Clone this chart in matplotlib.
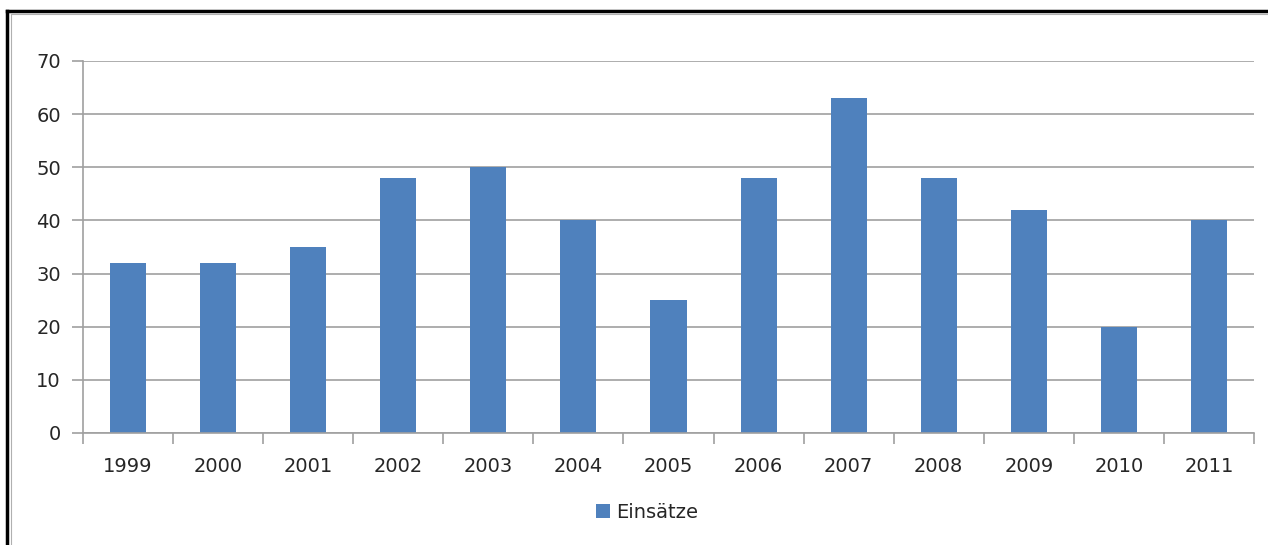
#!/usr/bin/env python3
"""Einsätze per year, Excel-style column chart."""

import matplotlib

matplotlib.use("Agg")
import matplotlib.pyplot as plt
import numpy as np
from matplotlib.lines import Line2D
from matplotlib.patches import Patch

years = ["1999", "2000", "2001", "2002", "2003", "2004", "2005",
         "2006", "2007", "2008", "2009", "2010", "2011"]
einsaetze = [32, 32, 35, 48, 50, 40, 25, 48, 63, 48, 42, 20, 40]
y_ticks = [0, 10, 20, 30, 40, 50, 60, 70]

W, H = 1268, 545
BAR = "#4F81BD"
GRID = "#a0a0a0"
TEXT = "#262626"

plt.rcParams["font.family"] = ["DejaVu Sans"]

fig = plt.figure(figsize=(W / 100, H / 100), dpi=100)
ax = fig.add_axes([83 / W, 1 - 433 / H, (1254 - 83) / W, (433 - 61) / H])

x = np.arange(len(years))
ax.bar(x, einsaetze, width=0.4, color=BAR, zorder=3)

ax.set_xlim(-0.5, len(years) - 0.5)
ax.set_ylim(0, 70)
ax.set_yticks(y_ticks)
ax.grid(True, axis="y", color=GRID, linewidth=1.2, zorder=0)

ax.set_xticks(x)
ax.set_xticklabels(years)
ax.set_xticks(np.arange(-0.5, len(years)), minor=True)
ax.tick_params(axis="x", which="major", length=0, pad=17, labelsize=14, colors=TEXT)
ax.tick_params(axis="x", which="minor", length=8, width=1.2, color=GRID, direction="out")
ax.tick_params(axis="y", length=8, width=1.2, color=GRID, pad=8, labelsize=14, labelcolor=TEXT)

for side in ["top", "right"]:
    ax.spines[side].set_visible(False)
for side in ["left", "bottom"]:
    ax.spines[side].set_color(GRID)
    ax.spines[side].set_linewidth(1.2)
    ax.spines[side].set_zorder(4)

fig.legend(
    handles=[Patch(facecolor=BAR, label="Einsätze")],
    loc="center",
    bbox_to_anchor=(647 / W, 1 - 512 / H),
    frameon=False,
    fontsize=14,
    labelcolor=TEXT,
    handlelength=0.75,
    handleheight=0.75,
    handletextpad=0.3,
)

# outer frame (black, clipped at right/bottom) with thin gray inner line
fig.add_artist(Line2D([7 / W, 7 / W], [0, 1 - 11 / H], color="black", linewidth=2.5))
fig.add_artist(Line2D([7 / W, 1], [1 - 11 / H, 1 - 11 / H], color="black", linewidth=2.5))
fig.add_artist(Line2D([10.5 / W, 10.5 / W], [0, 1 - 13.5 / H], color="#b0b0b0", linewidth=0.8))
fig.add_artist(Line2D([10.5 / W, 1], [1 - 13.5 / H, 1 - 13.5 / H], color="#b0b0b0", linewidth=0.8))

fig.savefig("out.png", dpi=100)
